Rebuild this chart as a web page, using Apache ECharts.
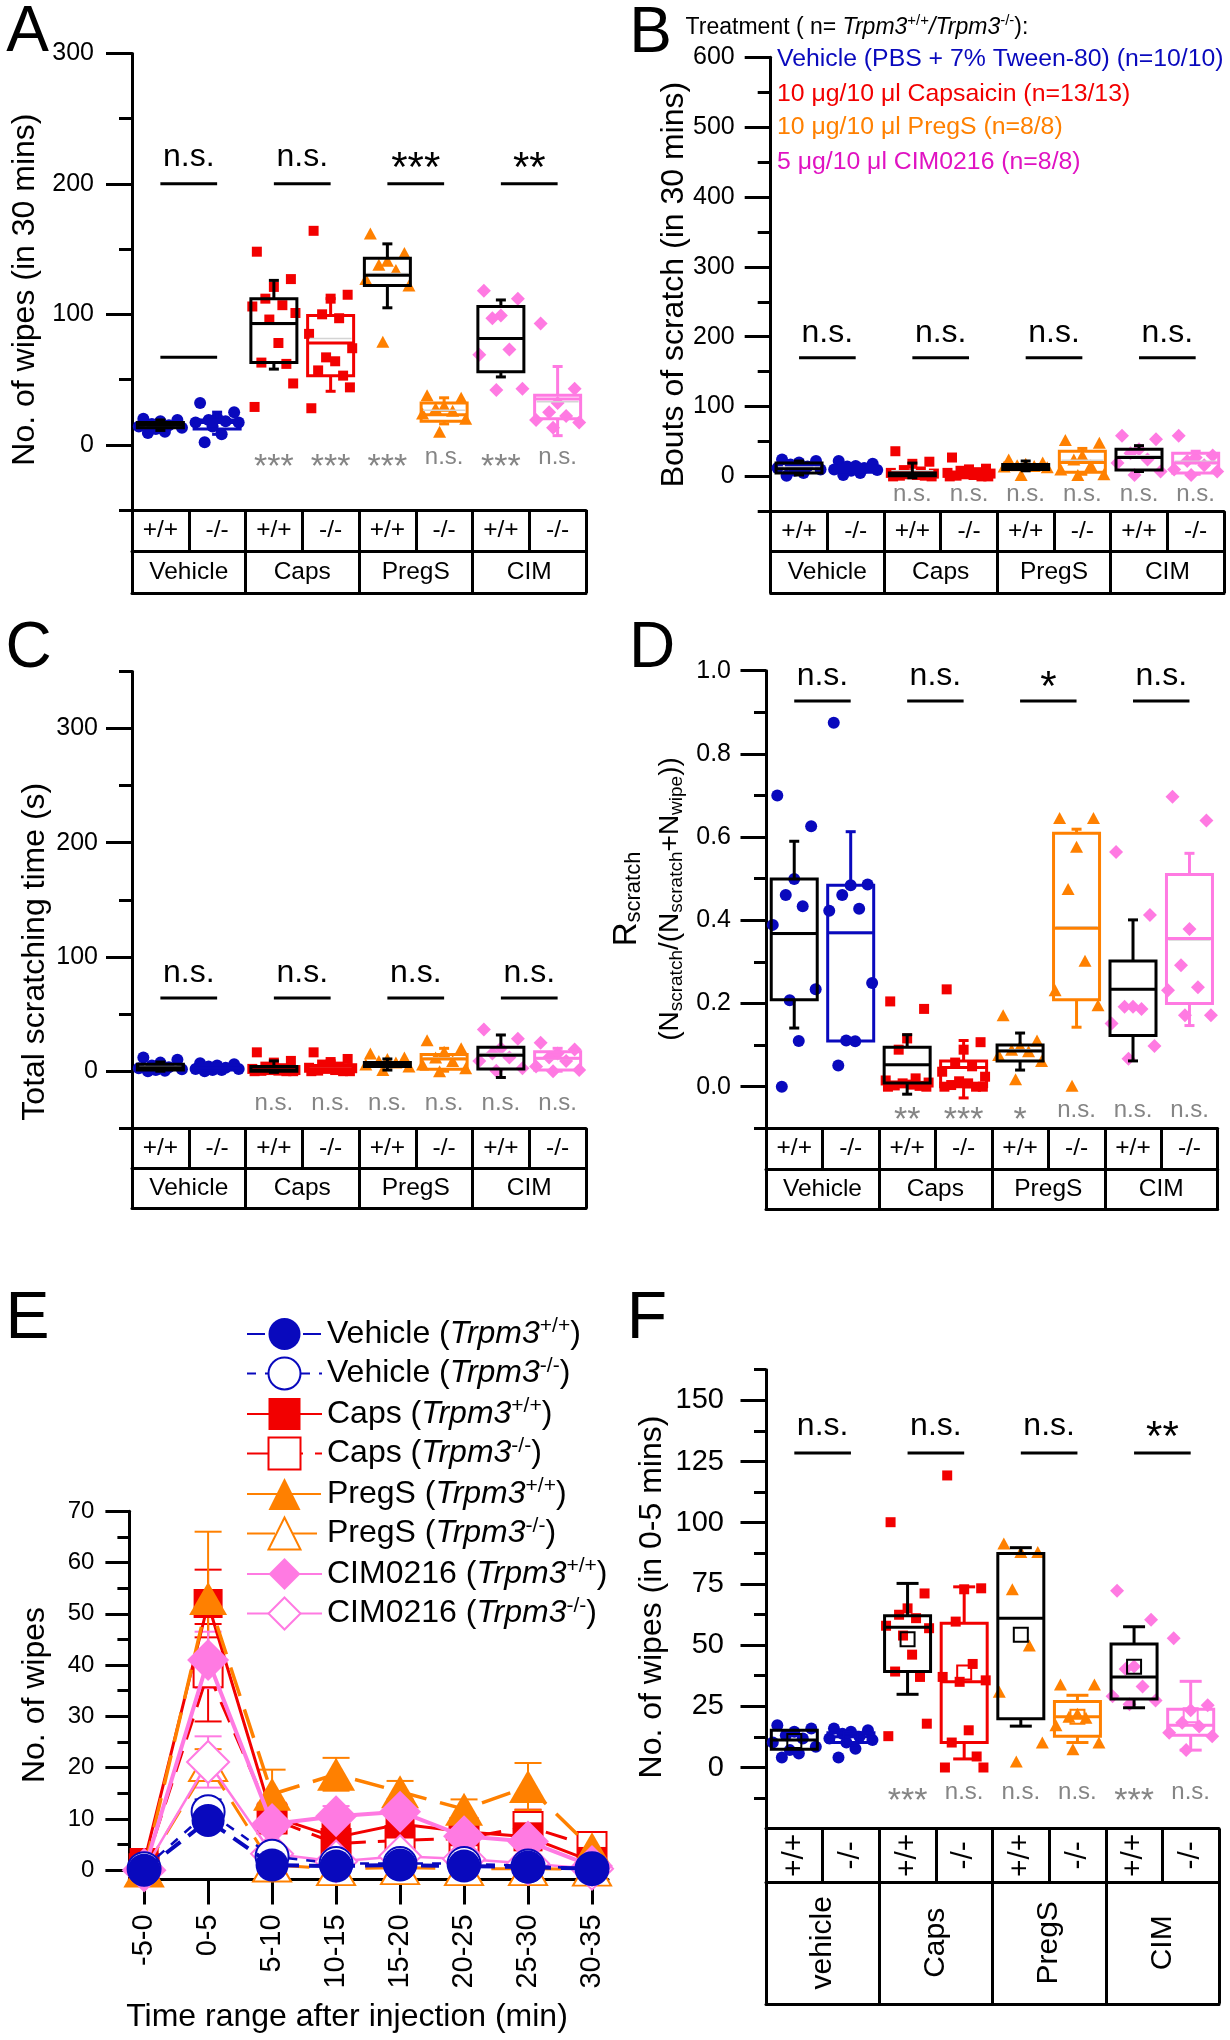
<!DOCTYPE html>
<html><head><meta charset="utf-8">
<script src="https://cdn.jsdelivr.net/npm/echarts@6/dist/echarts.min.js"></script>
<style>html,body{margin:0;padding:0;background:#fff}#c{width:1230px;height:2040px}</style>
</head><body><div id="c"></div>
<script>
// ---------------- categories ----------------
const genotypes = ['+/+','-/-','+/+','-/-','+/+','-/-','+/+','-/-'];
const treatments = ['Vehicle','Caps','PregS','CIM'];
const treatmentsF = ['vehicle','Caps','PregS','CIM'];
const timeLabels = ['-5-0','0-5','5-10','10-15','15-20','20-25','25-30','30-35'];

// ---------------- Panel A: wipes in 30 min ----------------
const A_vehWT  = [20,19,18,16,15,14,13,12,10,9];
const A_vehKO  = [32,25,21,19,18,17,17,14,8,2];
const A_capsWT = [148,127,121,112,107,106,101,96,78,63,62,47,29];
const A_capsKO = [164,115,112,100,97,85,74,67,64,57,53,44,28];
const A_pregWT = [162,147,141,138,134,127,122,79];
const A_pregKO = [38,36,30,28,26,24,20,10];
const A_cimWT  = [118,112,99,97,73,69,43,42];
const A_cimKO  = [93,43,32,25,22,19,17,13];
// [whisker low, q1, median, q3, whisker high]
const A_boxes = [[11,13,15,17,19],[8,12,17,19,25],[58,63,93,112,126],[41,53,78,99,112],
                 [105,122,130,143,154],[16,18,23,32,36],[52,56,81.5,106,111],[7,20,35,38,60]];
const A_sig = ['n.s.','n.s.','***','**'];
const A_vs  = ['','','***','***','***','n.s.','***','n.s.'];

// ---------------- Panel B: bouts of scratch ----------------
const B_vehWT  = [24,22,20,17,14,12,10,8,5,1];
const B_vehKO  = [22,18,15,14,12,10,9,8,5,2];
const B_capsWT = [36,21,18,9,7,5,4,3,2,1,1,0,0];
const B_capsKO = [27,11,10,8,6,5,4,3,2,1,0,0,0];
const B_pregWT = [24,20,18,16,15,14,13,2];
const B_pregKO = [52,48,30,24,16,10,3,2];
const B_cimWT  = [58,53,39,33,24,19,7,2];
const B_cimKO  = [58,30,27,22,16,10,7,2];
const B_boxes = [[2,5,11,19,22],[4,6,10,14,18],[-2,1,3,5,19],[0,1,3,6,12],
                 [8,10,13,17,22],[3,6,20,36,40],[7,9,27,39,44],[3,5,19,33,36]];
const B_sig = ['n.s.','n.s.','n.s.','n.s.'];
const B_vs  = ['','','n.s.','n.s.','n.s.','n.s.','n.s.','n.s.'];

// ---------------- Panel C: total scratching time ----------------
const C_vehWT  = [12,10,7.5,5,3.5,2.6,1.6,1,0.3,0];
const C_vehKO  = [7,6,5,4,3,2,2,1,1,0];
const C_capsWT = [16.5,9,7.5,4,2.6,2,1,1,0.5,0.3,0,0,0];
const C_capsKO = [16.5,10.7,8,5.8,4,3,2.6,2,1,0.5,0,0,0];
const C_pregWT = [15.5,12,10.7,9,7.5,5.8,4,1];
const C_pregKO = [27,20,17,12,9,5.8,2.6,0];
const C_cimWT  = [36.6,28.5,20,15.5,12,9,2.6,0.3];
const C_cimKO  = [25,19,15.5,12,9,4,1,0];
const C_boxes = [[0,1,3,6,8],[0.5,1,3,5,6],[-1,0,1,4,9],[0,0.5,2,5,9],
                 [1,4,5.5,7.5,10.7],[0,1.6,10.7,14.6,20],[-5.5,2,14,21,31.7],[0,1,11.3,17,20]];
const C_sig = ['n.s.','n.s.','n.s.','n.s.'];
const C_vs  = ['','','n.s.','n.s.','n.s.','n.s.','n.s.','n.s.'];

// ---------------- Panel D: R scratch ----------------
const D_vehWT  = [0.70,0.626,0.499,0.461,0.434,0.389,0.234,0.208,0.11,0.0];
const D_vehKO  = [0.875,0.486,0.484,0.461,0.428,0.423,0.249,0.111,0.109,0.051];
const D_capsWT = [0.205,0.187,0.116,0.089,0.02,0.015,0.01,0.008,0.005,0.003,0.002,0.0,0.0];
const D_capsKO = [0.234,0.107,0.089,0.058,0.049,0.036,0.024,0.013,0.008,0.004,0.0,0.0,0.0];
const D_pregWT = [0.172,0.111,0.098,0.089,0.085,0.076,0.062,0.018];
const D_pregKO = [0.646,0.646,0.577,0.475,0.303,0.232,0.196,0.002];
const D_cimWT  = [0.564,0.413,0.192,0.192,0.187,0.152,0.098,0.067];
const D_cimKO  = [0.697,0.640,0.379,0.292,0.239,0.232,0.172,0.172];
const D_boxes = [[0.141,0.209,0.368,0.499,0.59],[0.11,0.11,0.37,0.484,0.613],[-0.018,0.009,0.053,0.095,0.125],[-0.027,0.0,0.046,0.062,0.111],
                 [0.04,0.062,0.086,0.1,0.129],[0.143,0.209,0.381,0.609,0.619],[0.062,0.123,0.234,0.302,0.401],[0.147,0.2,0.356,0.51,0.561]];
const D_sig = ['n.s.','n.s.','*','n.s.'];
const D_vs  = ['','','**','***','*','n.s.','n.s.','n.s.'];

// ---------------- Panel E: time course ----------------
const E_vehWT  = [0,9.7,1,0.8,1,0.8,0.6,0.3];
const E_vehKO  = [0.3,11.4,2.7,1.3,1.3,1.3,0.8,0.3];
const E_capsWT = [1.5,52,10.5,6.4,9,7.5,6.5,1.7];
const E_capsKO = [0.3,38.5,10,5.2,5.8,6.2,8.5,4.6];
const E_pregWT = [0,53,14.8,18.7,15.3,11.9,16.3,4.2];
const E_pregKO = [0,20.6,1,0.3,0.5,0.3,0.3,0.2];
const E_cimWT  = [0,41,9,10.5,11.4,6.6,5.6,0.8];
const E_cimKO  = [0,21.1,3.2,1.7,2.7,2.2,1.3,0.3];
const E_vehWT_sem  = [0.2,1.5,0.4,0.3,0.3,0.3,0.3,0.2];
const E_vehKO_sem  = [0.2,2.4,1.0,0.5,0.5,0.5,0.4,0.2];
const E_capsWT_sem = [0.8,6.6,2.0,1.5,2.0,1.5,1.5,0.8];
const E_capsKO_sem = [0.2,9.5,2.0,1.5,1.8,1.5,3.3,1.0];
const E_pregWT_sem = [0,13,4.8,3.2,2.1,1.9,4.6,1.0];
const E_pregKO_sem = [0,3.0,0.8,0.3,0.3,0.2,0.2,0.2];
const E_cimWT_sem  = [0,5.5,1.5,2.0,2.5,1.5,1.5,0.5];
const E_cimKO_sem  = [0,5.0,1.0,0.8,1.5,1.0,0.8,0.3];

// ---------------- Panel F: wipes in 0-5 min ----------------
const F_vehWT  = [17.3,15.9,14.6,13.2,11.8,10.2,8.5,7.1,5.7,4.1];
const F_vehKO  = [15.9,15.2,14.6,13.8,12.6,11.8,11.2,10.2,7.7,4.1];
const F_capsWT = [100.2,71.1,65,62.4,61,57.9,56.9,53.9,46.1,39.2,37,17.9,12.8];
const F_capsKO = [119.3,73.2,72.8,59.6,42.3,37,35.6,35,15.2,10.2,4.5,0,0];
const F_pregWT = [91.5,88,88,72.8,49.8,30.9,10.2,2.4];
const F_pregKO = [33.9,33.9,22,20.7,20.3,17.3,10.2,7.5];
const F_cimWT  = [72.2,60.4,41.3,40.2,33.1,29.1,27.4,25.8];
const F_cimKO  = [52.8,25.4,23.4,18.3,16.7,14.2,12.8,7.1];
const F_boxes = [[7.5,7.5,11.2,15.2,15.2],[10.2,10.2,12.6,14.2,14.2],[29.9,39.2,57.3,62,75.2],[3.5,10.2,35,58.9,73.8],
                 [16.9,19.9,61,87.4,89.8],[10.2,12.8,20.7,27,29.5],[24.4,28,37,50.4,57.5],[7.1,13.2,17.3,23.8,35.2]];
const F_sig = ['n.s.','n.s.','n.s.','**'];
const F_vs  = ['','','***','n.s.','n.s.','n.s.','***','n.s.'];

// ---------------- styles ----------------
const FONT = '"Liberation Sans", Arial, Helvetica, sans-serif';
const BLUE='#0909BD', RED='#F20000', ORANGE='#FF8000', PINK='#FF7AE2', MAGENTA='#E012C2', GREY='#858585';
const TCOL = [BLUE, RED, ORANGE, PINK];
const SYMS = ['circle','rect','triangle','diamond'];
const SYM_SIZE = [12, 10, [13,12], 14];
const JIT = [-0.3,0.3,0,-0.15,0.15,-0.38,0.38,-0.08,0.08,-0.22,0.22,0.34,-0.34];
const lineS = {color:'#000', width:3};

const grids=[], xAxes=[], yAxes=[], series=[], graphics=[];
const meanOf = a => a.reduce((s,v)=>s+v,0)/a.length;

function addYAxes(g, c){
  const ym = yAxes.length;
  yAxes.push({type:'value', gridIndex:g, position:'left', offset:0, min:c.min, max:c.max,
    axisLine:{show:true,onZero:false,lineStyle:lineS},
    axisTick:{show:true, customValues:c.minor, length:c.minorLen, lineStyle:lineS},
    axisLabel:{show:false}, splitLine:{show:false}});
  yAxes.push({type:'value', gridIndex:g, position:'left', offset:0, min:c.min, max:c.max,
    axisLine:{show:false,onZero:false},
    axisTick:{show:true, customValues:c.major, length:c.majorLen, lineStyle:lineS},
    axisLabel:{show:true, customValues:c.major, margin:c.labelMargin, fontSize:c.labelSize, color:'#000', fontFamily:FONT,
      formatter:c.fmt || (v=>String(v))}, splitLine:{show:false}});
  return ym;
}

function annSeries(xv, ym, items){
  series.push({type:'custom', xAxisIndex:xv, yAxisIndex:ym, z:5, silent:true, clip:false,
    data: items.map(a=>[a.x1, a.x2, a.y]),
    renderItem:(p, api)=>{
      const a = items[p.dataIndex];
      const p1 = api.coord([a.x1, a.y]), p2 = api.coord([a.x2, a.y]);
      const ch=[];
      if (a.line) ch.push({type:'line', shape:{x1:p1[0], y1:p1[1], x2:p2[0], y2:p2[1]}, style:{stroke:'#000', lineWidth:3}});
      if (a.text){
        const star = a.text.indexOf('*')>=0;
        const fs = star ? a.starSize : a.size;
        const yc = p1[1] - (a.dy||0);
        const yy = star ? yc + 0.225*fs : yc - 0.09*fs;
        ch.push({type:'text', x:(p1[0]+p2[0])/2, y:yy,
          style:{text:a.text, fontSize:fs, fontFamily:FONT, fill:a.color, align:'center', verticalAlign:'middle'}});
      }
      return {type:'group', children:ch};
    }});
}

function boxPanel(c){
  const g = grids.length;
  grids.push({left:c.left, top:c.top, width:c.width, height:c.height});
  const xv = xAxes.length;
  xAxes.push({type:'value', gridIndex:g, min:-0.5, max:7.5, show:false});
  const lab = (m)=>({interval:0, margin:m, fontSize:c.tableFont, color:'#000', fontFamily:FONT,
      rotate:c.rotate?90:0, align:'center', verticalAlign:'middle'});
  xAxes.push({type:'category', gridIndex:g, position:'bottom', offset:0, data:genotypes, boundaryGap:true,
    axisLine:{show:true,onZero:false,lineStyle:lineS},
    axisTick:{show:true, interval:0, length:c.row1, lineStyle:lineS, alignWithLabel:false},
    axisLabel:lab(c.row1/2), splitLine:{show:false}});
  xAxes.push({type:'category', gridIndex:g, position:'bottom', offset:c.row1, data:c.treat, boundaryGap:true,
    axisLine:{show:true,onZero:false,lineStyle:lineS},
    axisTick:{show:true, interval:0, length:c.row2, lineStyle:lineS, alignWithLabel:false},
    axisLabel:lab(c.row2/2), splitLine:{show:false}});
  xAxes.push({type:'category', gridIndex:g, position:'bottom', offset:c.row1+c.row2, data:c.treat, boundaryGap:true,
    axisLine:{show:true,onZero:false,lineStyle:lineS}, axisTick:{show:false}, axisLabel:{show:false}, splitLine:{show:false}});
  const ym = addYAxes(g, c);

  // points
  c.points.forEach((arr,i)=>{
    const t = i>>1;
    series.push({type:'scatter', xAxisIndex:xv, yAxisIndex:ym, symbol:SYMS[t], symbolSize:SYM_SIZE[t],
      itemStyle:{color:TCOL[t], opacity:1}, z:2, silent:true,
      data: arr.map((v,j)=>[i + JIT[j%JIT.length], v])});
  });
  // boxes
  series.push({type:'custom', xAxisIndex:xv, yAxisIndex:ym, z:3, silent:true, clip:false,
    data: c.boxes.map((b,i)=>[i, b[0], b[1], b[2], b[3], b[4], meanOf(c.points[i])]),
    renderItem:(p, api)=>{
      const i = api.value(0);
      const col = i%2===0 ? '#000' : TCOL[i>>1];
      const cx = api.coord([i, 0])[0];
      const Y = v => api.coord([i, v])[1];
      const hw = c.boxW/2, cw = c.capW/2;
      const lo=Y(api.value(1)), q1=Y(api.value(2)), md=Y(api.value(3)), q3=Y(api.value(4)), hi=Y(api.value(5)), mn=Y(api.value(6));
      const st = {stroke:col, lineWidth:3};
      const ch=[];
      if (c.meanLine) ch.push({type:'line', shape:{x1:cx-hw+2,y1:mn,x2:cx+hw-2,y2:mn}, style:{stroke:'#d4d4d4', lineWidth:1.5}});
      if (hi < q3-0.5){ ch.push({type:'line', shape:{x1:cx,y1:q3,x2:cx,y2:hi}, style:st});
        ch.push({type:'line', shape:{x1:cx-cw,y1:hi,x2:cx+cw,y2:hi}, style:st}); }
      if (lo > q1+0.5){ ch.push({type:'line', shape:{x1:cx,y1:q1,x2:cx,y2:lo}, style:st});
        ch.push({type:'line', shape:{x1:cx-cw,y1:lo,x2:cx+cw,y2:lo}, style:st}); }
      ch.push({type:'rect', shape:{x:cx-hw, y:q3, width:2*hw, height:Math.max(q1-q3,1)}, style:{fill:'none', stroke:col, lineWidth:3}});
      ch.push({type:'line', shape:{x1:cx-hw,y1:md,x2:cx+hw,y2:md}, style:st});
      if (c.meanSquare) ch.push({type:'rect', shape:{x:cx-7, y:mn-7, width:14, height:14}, style:{fill:'none', stroke:col, lineWidth:2}});
      return {type:'group', children:ch};
    }});
  // annotations
  const items=[];
  c.sig.forEach((s,k)=>items.push({x1:2*k, x2:2*k+1, y:c.sigY, line:true, text:s, dy:c.sigDy, size:32, starSize:42, color:'#000'}));
  (c.extra||[]).forEach(e=>items.push({x1:e.x1, x2:e.x2, y:e.y, line:true, text:''}));
  c.vs.forEach((s,k)=>{ if(s) items.push({x1:k, x2:k, y:c.vsY, line:false, text:s, dy:0, size:24, starSize:34, color:GREY}); });
  annSeries(xv, ym, items);
}

boxPanel({left:132, top:53.4, width:454, height:456.6, min:-50, max:300,
  major:[0,100,200,300], minor:[-50,50,150,250], majorLen:26, minorLen:13, labelMargin:38, labelSize:25,
  row1:41, row2:42, tableFont:24.5, treat:treatments,
  points:[A_vehWT,A_vehKO,A_capsWT,A_capsKO,A_pregWT,A_pregKO,A_cimWT,A_cimKO], boxes:A_boxes,
  boxW:46, capW:10, meanLine:true, sig:A_sig, sigY:200, sigDy:24, vs:A_vs, vsY:-11.5, extra:[{x1:0,x2:1,y:67}]});

boxPanel({left:770.7, top:57.3, width:453.3, height:454, min:-50, max:600,
  major:[0,100,200,300,400,500,600], minor:[-50,50,150,250,350,450,550], majorLen:26, minorLen:13, labelMargin:36, labelSize:25,
  row1:40.3, row2:41.4, tableFont:24.5, treat:treatments,
  points:[B_vehWT,B_vehKO,B_capsWT,B_capsKO,B_pregWT,B_pregKO,B_cimWT,B_cimKO], boxes:B_boxes,
  boxW:46, capW:10, meanLine:true, sig:B_sig, sigY:170, sigDy:22, vs:B_vs, vsY:-29.4});

boxPanel({left:132, top:671.4, width:454, height:456.9, min:-50, max:350,
  major:[0,100,200,300], minor:[-50,50,150,250,350], majorLen:26, minorLen:13, labelMargin:34, labelSize:25,
  row1:40, row2:40.3, tableFont:24.5, treat:treatments,
  points:[C_vehWT,C_vehKO,C_capsWT,C_capsKO,C_pregWT,C_pregKO,C_cimWT,C_cimKO], boxes:C_boxes,
  boxW:46, capW:10, meanLine:true, sig:C_sig, sigY:64, sigDy:22, vs:C_vs, vsY:-29.8});

boxPanel({left:766, top:670.7, width:451.7, height:457.6, min:-0.1, max:1.0,
  major:[0,0.2,0.4,0.6,0.8,1.0], minor:[-0.1,0.1,0.3,0.5,0.7,0.9], majorLen:25.5, minorLen:12, labelMargin:35, labelSize:25,
  fmt:v=>Number(v).toFixed(1),
  row1:40.7, row2:40.7, tableFont:24.5, treat:treatments,
  points:[D_vehWT,D_vehKO,D_capsWT,D_capsKO,D_pregWT,D_pregKO,D_cimWT,D_cimKO], boxes:D_boxes,
  boxW:46, capW:10, meanLine:true, sig:D_sig, sigY:0.927, sigDy:22, vs:D_vs, vsY:-0.062});

boxPanel({left:766, top:1369.7, width:453, height:459, min:-25, max:162.5,
  major:[0,25,50,75,100,125,150], minor:[-12.5,12.5,37.5,62.5,87.5,112.5,137.5,162.5], majorLen:25.5, minorLen:12, labelMargin:42, labelSize:29,
  row1:53.2, row2:121.9, tableFont:30, rotate:true, treat:treatmentsF,
  points:[F_vehWT,F_vehKO,F_capsWT,F_capsKO,F_pregWT,F_pregKO,F_cimWT,F_cimKO], boxes:F_boxes,
  boxW:46, capW:22, meanLine:false, meanSquare:true, sig:F_sig, sigY:128.5, sigDy:24, vs:F_vs, vsY:-11});

// ---------------- Panel E ----------------
(function(){
  const g = grids.length;
  grids.push({left:129.4, top:1511.2, width:478.6, height:368.2});
  const xv = xAxes.length;
  const idx = timeLabels.map((_,i)=>i);
  xAxes.push({type:'value', gridIndex:g, position:'bottom', min:-0.23, max:7.25,
    axisLine:{show:true,onZero:false,lineStyle:lineS},
    axisTick:{show:true, customValues:idx, length:25, lineStyle:lineS},
    axisLabel:{show:true, customValues:idx, formatter:v=>timeLabels[Math.round(v)], rotate:90, margin:35,
      fontSize:29, color:'#000', fontFamily:FONT}, splitLine:{show:false}});
  const ym = addYAxes(g, {min:-1.8, max:70, major:[0,10,20,30,40,50,60,70], minor:[5,15,25,35,45,55,65],
    majorLen:24, minorLen:12, labelMargin:35, labelSize:24});
  const defs = [
    {name:'Caps|-/-', d:E_capsKO, e:E_capsKO_sem, col:RED, sym:'emptyRect', size:29, w:3, type:[22,12]},
    {name:'Caps|+/+', d:E_capsWT, e:E_capsWT_sem, col:RED, sym:'rect', size:29, w:3, type:'solid'},
    {name:'PregS|-/-', d:E_pregKO, e:E_pregKO_sem, col:ORANGE, sym:'emptyTriangle', size:[38,33], w:3, type:[28,14]},
    {name:'PregS|+/+', d:E_pregWT, e:E_pregWT_sem, col:ORANGE, sym:'triangle', size:[38,33], w:3.5, type:[30,14]},
    {name:'CIM0216|-/-', d:E_cimKO, e:E_cimKO_sem, col:PINK, sym:'emptyDiamond', size:[42,42], w:2.5, type:'solid'},
    {name:'CIM0216|+/+', d:E_cimWT, e:E_cimWT_sem, col:PINK, sym:'diamond', size:[42,42], w:4, type:'solid'},
    {name:'Vehicle|-/-', d:E_vehKO, e:E_vehKO_sem, col:BLUE, sym:'emptyCircle', size:33, w:2.5, type:[9,9]},
    {name:'Vehicle|+/+', d:E_vehWT, e:E_vehWT_sem, col:BLUE, sym:'circle', size:33, w:4, type:[18,10]}
  ];
  defs.forEach((s,k)=>{
    series.push({type:'custom', xAxisIndex:xv, yAxisIndex:ym, z:2+k*0.01, silent:true, clip:false,
      data: s.d.map((v,i)=>[i, v, s.e[i]]),
      renderItem:(p, api)=>{
        const i=api.value(0), v=api.value(1), e=api.value(2);
        if (!(e>0)) return null;
        const top=api.coord([i, v+e]), bot=api.coord([i, v-e]);
        const st={stroke:s.col, lineWidth:2};
        return {type:'group', children:[
          {type:'line', shape:{x1:top[0],y1:top[1],x2:bot[0],y2:bot[1]}, style:st},
          {type:'line', shape:{x1:top[0]-13.5,y1:top[1],x2:top[0]+13.5,y2:top[1]}, style:st},
          {type:'line', shape:{x1:bot[0]-13.5,y1:bot[1],x2:bot[0]+13.5,y2:bot[1]}, style:st}]};
      }});
  });
  defs.forEach((s,k)=>{
    series.push({type:'line', name:s.name, xAxisIndex:xv, yAxisIndex:ym, z:3+k*0.01, silent:true,
      data: s.d.map((v,i)=>[i, v]), symbol:s.sym, symbolSize:s.size, showAllSymbol:true,
      lineStyle:{color:s.col, width:s.w, type:s.type},
      itemStyle:{color:s.col, borderColor:s.col, borderWidth:s.sym.indexOf('empty')===0?2.5:0}});
  });
})();

// ---------------- text graphics ----------------
function txt(x,y,text,fs,opt){
  opt=opt||{};
  graphics.push({type:'text', x:x, y:y, rotation:opt.rot||0, silent:true,
    style:{text:text, fontSize:fs, fontFamily:FONT, fill:opt.color||'#000', align:opt.align||'center',
      verticalAlign:'middle', rich:opt.rich, fontStyle:opt.fontStyle}});
}
const R90 = Math.PI/2;
// panel letters
txt(27.5,33.5,'A',64); txt(650.5,34.5,'B',64); txt(28.5,649.5,'C',64);
txt(652,649.5,'D',64); txt(27.5,1320,'E',66); txt(647,1320,'F',66);
// axis titles
txt(25.5,289.6,'No. of wipes (in 30 mins)',32,{rot:R90});
txt(673.8,284.6,'Bouts of scratch (in 30 mins)',32,{rot:R90});
txt(35.3,951.7,'Total scratching time (s)',32,{rot:R90});
txt(35,1695,'No. of wipes',32,{rot:R90});
txt(652,1597,'No. of wipes (in 0-5 mins)',32,{rot:R90});
txt(347,2017,'Time range after injection (min)',32);
txt(626.8,899,'{b|R}{s|scratch}',32,{rot:R90, rich:{b:{fontSize:33,fontFamily:FONT,lineHeight:36}, s:{fontSize:22,fontFamily:FONT,verticalAlign:'bottom'}}});
txt(670,899,'{b|(N}{s|scratch}{b|/(N}{s|scratch}{b|+N}{s|wipe}{b|))}',28,{rot:R90,
  rich:{b:{fontSize:28,fontFamily:FONT,lineHeight:32}, s:{fontSize:19,fontFamily:FONT,verticalAlign:'bottom'}}});
// Panel B header + treatment key
const supRich = (fs, sfs)=>({n:{fontSize:fs,fontFamily:FONT,lineHeight:fs+4,color:'#000'}, i:{fontSize:fs,fontFamily:FONT,fontStyle:'italic',lineHeight:fs+4,color:'#000'}, s:{fontSize:sfs,fontFamily:FONT,verticalAlign:'top',color:'#000'}});
txt(685.6,27.3,'{n|Treatment ( n= }{i|Trpm3}{s|+/+}{i|/Trpm3}{s|-/-}{n|):}',23,{align:'left', rich:supRich(23,15)});
txt(777,59.3,'Vehicle (PBS + 7% Tween-80) (n=10/10)',24.8,{align:'left',color:BLUE});
txt(777,94.1,'10 \u03bcg/10 \u03bcl Capsaicin (n=13/13)',24.8,{align:'left',color:RED});
txt(777,127.3,'10 \u03bcg/10 \u03bcl PregS (n=8/8)',24.8,{align:'left',color:ORANGE});
txt(777,162.1,'5 \u03bcg/10 \u03bcl CIM0216 (n=8/8)',24.8,{align:'left',color:MAGENTA});

const chart = echarts.init(document.getElementById('c'), null, {renderer:'canvas', width:1230, height:2040});
chart.setOption({
  animation:false,
  backgroundColor:'#fff',
  textStyle:{fontFamily:FONT},
  grid:grids, xAxis:xAxes, yAxis:yAxes, series:series, graphic:graphics,
  legend:{orient:'vertical', left:241, top:1311, itemWidth:75, itemHeight:40, itemGap:5.5, selectedMode:false,
    data:['Vehicle|+/+','Vehicle|-/-','Caps|+/+','Caps|-/-','PregS|+/+','PregS|-/-','CIM0216|+/+','CIM0216|-/-'],
    formatter:name=>{const p=name.split('|'); return '{n|'+p[0]+' (}{i|Trpm3}{s|'+p[1]+'}{n|)}';},
    textStyle:{fontFamily:FONT, fontSize:32, color:'#000', rich:supRich(32,21)}}
});
</script></body></html>
